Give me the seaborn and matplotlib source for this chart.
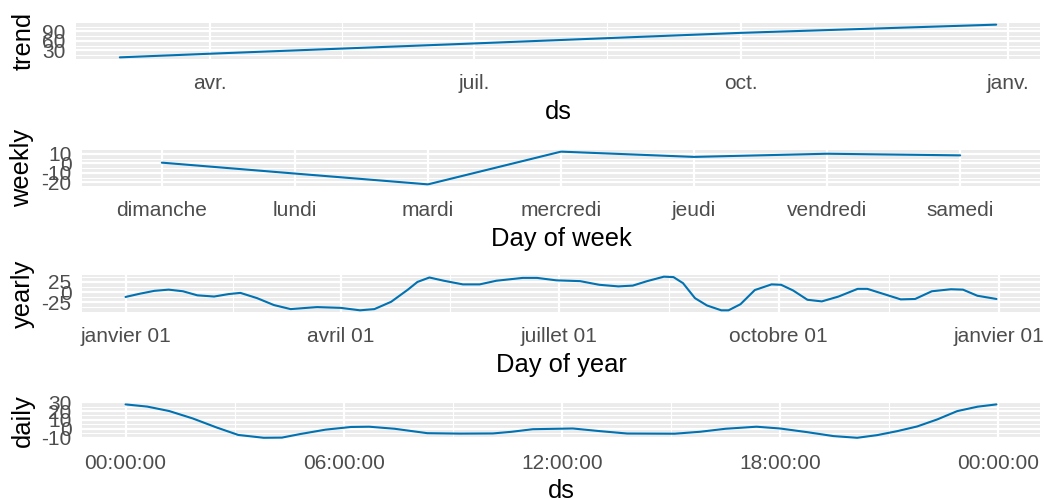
import matplotlib
matplotlib.use("Agg")
import matplotlib.pyplot as plt
import matplotlib.ticker as mticker
import matplotlib.dates as mdates
import numpy as np
import pandas as pd
import seaborn as sns

# ---------------- data ----------------
trend_dates = ["2017-03-01", "2017-04-01", "2017-07-01", "2017-10-01", "2017-12-28"]
trend_values = [7.5, 19.0, 51.5, 85.0, 111.0]
trend_tick_dates = ["2017-04-01", "2017-07-01", "2017-10-01", "2018-01-01"]
trend_tick_labels = ["avr.", "juil.", "oct.", "janv."]

weekly_days = ["dimanche", "lundi", "mardi", "mercredi", "jeudi", "vendredi", "samedi"]
weekly_values = [0.7, -10.7, -22.0, 12.2, 6.7, 10.0, 8.3]

yearly_days = [0, 6, 12, 18, 24, 30, 37, 43, 48, 55, 62, 69, 80, 90, 98, 104,
               111, 118, 122, 127, 133, 141, 148, 155, 166, 172, 180, 190, 198,
               206, 212, 218, 225, 229, 233, 238, 243, 249, 252, 257, 263, 270,
               274, 279, 285, 291, 298, 306, 310, 317, 324, 330, 337, 345, 350,
               356, 364]
yearly_values = [-12, -4, 3, 6, 2, -8, -11, -5, -2, -15, -32, -42, -37, -39, -45, -42,
                 -24, 6, 25, 36, 28, 19, 19, 28, 35, 35, 29, 27, 18,
                 14, 16, 27, 38, 37, 22, -15, -33, -45, -45, -30, 5, 19,
                 18, 4, -19, -23, -11, 8, 8, -5, -18, -17, 2, 7, 6,
                 -9, -17]
yearly_tick_dates = ["2017-01-01", "2017-04-01", "2017-07-01", "2017-10-01", "2018-01-01"]
yearly_tick_labels = ["janvier 01", "avril 01", "juillet 01", "octobre 01", "janvier 01"]

daily_hours = [0, 0.6, 1.2, 1.85, 2.5, 3.1, 3.8, 4.3, 4.8, 5.5, 6.2, 6.7, 7.4, 8.3,
               9.2, 10.1, 10.6, 11.2, 12.3, 13.05, 13.8, 15.1, 15.8, 16.5, 17.35,
               18.0, 18.74, 19.47, 20.12, 20.67, 21.22, 21.77, 22.32, 22.87, 23.43,
               23.95]
daily_values = [27.5, 25, 20, 11.6, 1.5, -7, -10.2, -10, -6, -1, 2, 2.3, 0, -5,
                -5.5, -5.3, -3.5, -0.5, 0.3, -2.7, -5.4, -5.6, -3.4, 0, 2.3,
                0.3, -3.8, -8.3, -10.2, -7.2, -2.7, 2.6, 10.5, 19.9, 24.9,
                27.5]
daily_tick_hours = [0, 6, 12, 18, 24]
daily_tick_labels = ["00:00:00", "06:00:00", "12:00:00", "18:00:00", "00:00:00"]

# ---------------- style ----------------
sns.set_theme(style="darkgrid")
plt.rcParams["font.family"] = ["Liberation Sans", "DejaVu Sans"]
plt.rcParams["axes.unicode_minus"] = False

LINE = "#0072B2"
W, H = 1044, 499
fig = plt.figure(figsize=(W / 100, H / 100), dpi=100)


def panel(left_px, top_px, bottom_px, right_px=1040):
    return fig.add_axes([left_px / W, 1 - bottom_px / H,
                         (right_px - left_px) / W, (bottom_px - top_px) / H])


def style(ax, ymaj, xlabel, ylabel, xminor=None):
    ax.set_facecolor("#EBEBEB")
    for s in ax.spines.values():
        s.set_visible(False)
    ax.yaxis.set_major_locator(mticker.MultipleLocator(ymaj))
    ax.yaxis.set_minor_locator(mticker.MultipleLocator(ymaj / 2))
    if xminor is not None:
        ax.xaxis.set_minor_locator(mticker.FixedLocator(xminor))
    else:
        ax.xaxis.set_minor_locator(mticker.NullLocator())
    ax.grid(which="major", color="white", linewidth=1.6)
    ax.grid(which="minor", color="white", linewidth=0.8)
    ax.set_axisbelow(True)
    ax.tick_params(which="major", length=4.5, width=1.2, color="#333333",
                   labelsize=15.0, labelcolor="#4D4D4D")
    ax.tick_params(axis="x", which="major", pad=6.5)
    ax.tick_params(axis="y", which="major", pad=3.0)
    ax.tick_params(which="minor", length=0)
    ax.set_xlabel(xlabel, fontsize=18.4, color="black", labelpad=4.5)
    ax.set_ylabel(ylabel, fontsize=18.4, color="black", labelpad=5)


def midpoints(vals):
    return [(a + b) / 2 for a, b in zip(vals[:-1], vals[1:])]


# trend
ax1 = panel(76, 23, 59)
df_t = pd.DataFrame({"ds": pd.to_datetime(trend_dates), "trend": trend_values})
sns.lineplot(data=df_t, x="ds", y="trend", ax=ax1, color=LINE, linewidth=1.5)
tt = list(mdates.date2num(pd.to_datetime(trend_tick_dates)))
ax1.set_xticks(tt)
ax1.set_xticklabels(trend_tick_labels)
style(ax1, 30, "ds", "trend", xminor=midpoints(tt))

# weekly
ax2 = panel(82, 150, 186)
df_w = pd.DataFrame({"pos": np.arange(len(weekly_days)), "weekly": weekly_values})
sns.lineplot(data=df_w, x="pos", y="weekly", ax=ax2, color=LINE, linewidth=1.5)
ax2.set_xticks(np.arange(len(weekly_days)))
ax2.set_xticklabels(weekly_days)
ax2.set_xlim(-0.6, len(weekly_days) - 0.4)
style(ax2, 10, "Day of week", "weekly")

# yearly
ax3 = panel(82, 275, 312)
df_y = pd.DataFrame({"ds": pd.Timestamp("2017-01-01") + pd.to_timedelta(yearly_days, unit="D"),
                     "yearly": yearly_values})
sns.lineplot(data=df_y, x="ds", y="yearly", ax=ax3, color=LINE, linewidth=1.5)
yt = list(mdates.date2num(pd.to_datetime(yearly_tick_dates)))
ax3.set_xticks(yt)
ax3.set_xticklabels(yearly_tick_labels)
style(ax3, 25, "Day of year", "yearly", xminor=midpoints(yt))

# daily
ax4 = panel(82, 402, 438.5)
df_d = pd.DataFrame({"hour": daily_hours, "daily": daily_values})
sns.lineplot(data=df_d, x="hour", y="daily", ax=ax4, color=LINE, linewidth=1.5)
ax4.set_xticks(daily_tick_hours)
ax4.set_xticklabels(daily_tick_labels)
ax4.set_ylim(-11.0, 30.2)
style(ax4, 10, "ds", "daily", xminor=midpoints(daily_tick_hours))

fig.savefig("out.png", dpi=100)
